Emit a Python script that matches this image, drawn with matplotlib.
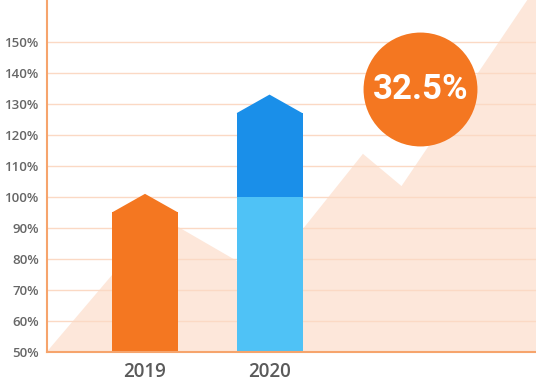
import matplotlib.pyplot as plt

# data
years = ['2019', '2020']
bar_2019 = 95
tip_2019 = 101
base_2020 = 100
top_2020 = 127
tip_2020 = 133
yticks = [50, 60, 70, 80, 90, 100, 110, 120, 130, 140, 150]

# background trend area
trend_x = [-0.79, 0.13, 0.96, 1.75, 2.06, 3.07, 3.2]
trend_y = [50, 93.5, 74.2, 113.9, 103.5, 163.5, 168]

growth_label = '32.5%'
growth_pos = (2.21, 134.8)

orange = '#f47721'
dark_blue = '#1a8fe9'
light_blue = '#4fc2f6'
peach = '#fde7da'
grid_col = '#fbd9c4'
spine_col = '#f6a46c'

fig = plt.figure(figsize=(5.36, 3.87), dpi=100)
ax = fig.add_axes([47 / 536, 35 / 387, 489 / 536, 352 / 387])

ax.fill_between(trend_x, 0, trend_y, color=peach, lw=0, zorder=1)

w = 0.53
ax.bar(0, bar_2019, width=w, color=orange, zorder=3)
ax.fill([-w / 2, 0, w / 2], [bar_2019, tip_2019, bar_2019], color=orange, lw=0, zorder=3)

ax.bar(1, base_2020, width=w, color=light_blue, zorder=3)
ax.bar(1, top_2020 - base_2020, bottom=base_2020, width=w, color=dark_blue, zorder=3)
ax.fill([1 - w / 2, 1, 1 + w / 2], [top_2020, tip_2020, top_2020], color=dark_blue, lw=0, zorder=3)

ax.scatter([growth_pos[0]], [growth_pos[1]], s=82 ** 2, color=orange, lw=0, zorder=4)
ax.text(growth_pos[0], growth_pos[1], growth_label, color='white', ha='center', va='center',
        fontsize=25, fontweight='bold', family='Roboto', zorder=5)

ax.set_xlim(-0.787, 3.14)
ax.set_ylim(50, 163.5)
ax.set_yticks(yticks)
ax.set_yticklabels([f'{v}%' for v in yticks], family='Open Sans', fontsize=9.5,
                   fontweight='semibold', color='#666666')
ax.set_xticks([0, 1])
ax.set_xticklabels(years, family='Open Sans', fontsize=13.5, fontweight='semibold', color='#5a5a5a')
ax.tick_params(axis='y', length=0, pad=6)
ax.tick_params(axis='x', length=0, pad=7)

ax.set_axisbelow('line')
ax.yaxis.grid(True, color=grid_col, lw=1)

for s in ['top', 'right']:
    ax.spines[s].set_visible(False)
for s in ['left', 'bottom']:
    ax.spines[s].set_color(spine_col)
    ax.spines[s].set_linewidth(1.5)
    ax.spines[s].set_zorder(6)

fig.savefig('out.png', dpi=100)
